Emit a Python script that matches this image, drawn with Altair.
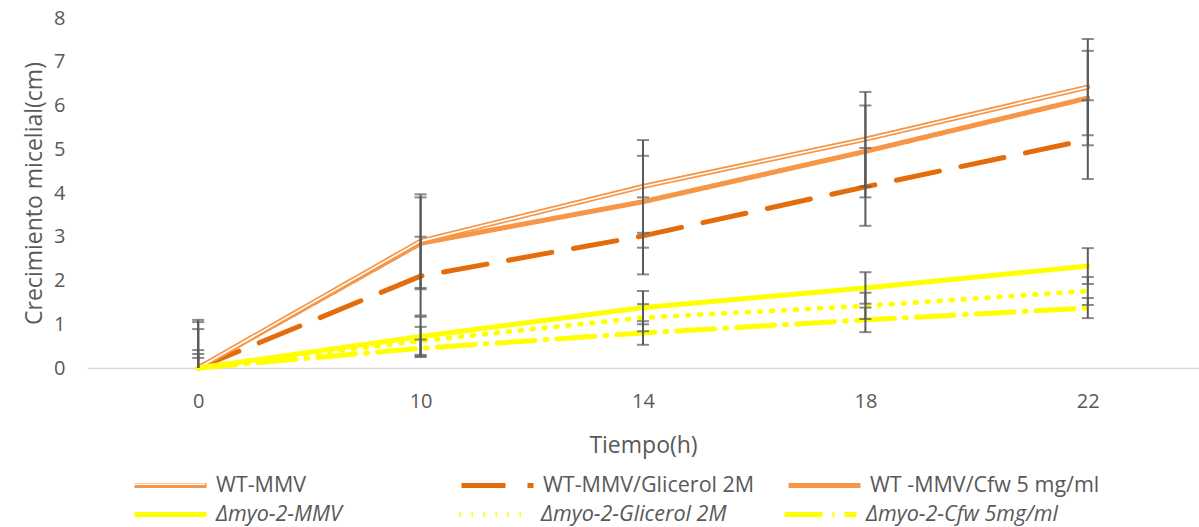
import altair as alt
import pandas as pd

times = ["0", "10", "14", "18", "22"]
wt_series = ["WT-MMV", "WT-MMV/Glicerol 2M", "WT -MMV/Cfw 5 mg/ml"]
myo_series = ["Δmyo-2-MMV", "Δmyo-2-Glicerol 2M", "Δmyo-2-Cfw 5mg/ml"]
means = {
    "WT-MMV":              [0, 2.90, 4.15, 5.23, 6.42],
    "WT-MMV/Glicerol 2M":  [0, 2.10, 3.02, 4.14, 5.22],
    "WT -MMV/Cfw 5 mg/ml": [0, 2.85, 3.80, 4.95, 6.17],
    "Δmyo-2-MMV":          [0, 0.72, 1.38, 1.83, 2.33],
    "Δmyo-2-Glicerol 2M":  [0, 0.62, 1.15, 1.42, 1.76],
    "Δmyo-2-Cfw 5mg/ml":   [0, 0.45, 0.80, 1.10, 1.37],
}
errors = {
    "WT-MMV":              [1.10, 1.07, 1.06, 1.08, 1.10],
    "WT-MMV/Glicerol 2M":  [0.89, 0.90, 0.88, 0.89, 0.90],
    "WT -MMV/Cfw 5 mg/ml": [1.05, 1.05, 1.05, 1.05, 1.08],
    "Δmyo-2-MMV":          [0.41, 0.45, 0.38, 0.36, 0.41],
    "Δmyo-2-Glicerol 2M":  [0.32, 0.32, 0.31, 0.30, 0.32],
    "Δmyo-2-Cfw 5mg/ml":   [0.23, 0.20, 0.27, 0.28, 0.23],
}
wt_colors = ["#F79646", "#E46C0A", "#F79646"]
myo_colors = ["#FFFF00", "#FFFF00", "#FFFF00"]
wt_dashes = [[1, 0], [44, 22], [1, 0]]
myo_dashes = [[1, 0], [1.5, 10.5], [38, 10, 2, 10]]

rows = []
for grp, names in (("wt", wt_series), ("myo", myo_series)):
    for s in names:
        for t, m, e in zip(times, means[s], errors[s]):
            rows.append({"Tiempo": t, "grupo": grp, "serie": s, "valor": m, "lo": m - e, "hi": m + e})
df = pd.DataFrame(rows)

FONT = "Open Sans"
GRAY = "#595959"
EB = "#5A5A5A"

x = alt.X("Tiempo:O", sort=times, scale=alt.Scale(type="point", padding=0.5),
          axis=alt.Axis(title="Tiempo(h)", labelAngle=0, ticks=False, domainColor="#D9D9D9",
                        domainWidth=1.5, labelPadding=23, titlePadding=23))
yscale = alt.Scale(domain=[0, 8])
y = alt.Y("valor:Q", scale=yscale,
          axis=alt.Axis(title="Crecimiento micelial(cm)", values=list(range(9)), grid=False,
                        domain=False, ticks=False, labelPadding=22, titlePadding=7))


def legend(ly, cpad, style, width=5, label_expr="datum.label"):
    return alt.Legend(title=None, orient="none", direction="horizontal", columns=3,
                      legendX=45, legendY=ly,
                      symbolType="stroke", symbolSize=5184, symbolStrokeWidth=width,
                      labelFontSize=21.5, labelFont=FONT, labelColor=GRAY, labelOffset=7,
                      labelExpr=label_expr,
                      labelFontStyle=style, columnPadding=cpad, gridAlign="all", labelLimit=400)


base = alt.Chart(df)
wt_lines = base.transform_filter(alt.datum.grupo == "wt").mark_line(
    strokeWidth=5, strokeCap="round", strokeJoin="round").encode(
    x=x, y=y,
    color=alt.Color("serie:N", sort=wt_series, scale=alt.Scale(domain=wt_series, range=wt_colors),
                    legend=legend(429, 5, "normal")),
    strokeDash=alt.StrokeDash("serie:N", sort=wt_series,
                              scale=alt.Scale(domain=wt_series, range=wt_dashes), legend=None),
)
inner = base.transform_filter(alt.datum.serie == "WT-MMV").mark_line(
    strokeWidth=1.6, strokeCap="round").encode(
    x=x, y=y,
    color=alt.Color("serie:N", scale=alt.Scale(domain=wt_series[:1], range=["#FFFFFF"]),
                    legend=legend(429, 5, "normal", width=1.6, label_expr="''")),
)
myo_lines = base.transform_filter(alt.datum.grupo == "myo").mark_line(
    strokeWidth=5, strokeCap="round", strokeJoin="round").encode(
    x=x, y=y,
    color=alt.Color("serie:N", sort=myo_series, scale=alt.Scale(domain=myo_series, range=myo_colors),
                    legend=legend(458, 41, "italic")),
    strokeDash=alt.StrokeDash("serie:N", sort=myo_series,
                              scale=alt.Scale(domain=myo_series, range=myo_dashes), legend=None),
)

rule = base.mark_rule(color=EB, strokeWidth=2, clip=True).encode(
    x=x, y=alt.Y("lo:Q", scale=yscale), y2="hi:Q")
cap_lo = base.mark_tick(color=EB, thickness=2, size=12, orient="horizontal", clip=True).encode(
    x=x, y=alt.Y("lo:Q", scale=yscale))
cap_hi = base.mark_tick(color=EB, thickness=2, size=12, orient="horizontal", clip=True).encode(
    x=x, y=alt.Y("hi:Q", scale=yscale))

chart = alt.layer(wt_lines, inner, myo_lines, rule, cap_lo, cap_hi).resolve_scale(
    color="independent", strokeDash="independent"
).properties(
    width=1112, height=350,
    autosize=alt.AutoSizeParams(type="none"),
    padding={"left": 87, "top": 18, "right": 0, "bottom": 159},
).configure_view(stroke=None).configure_axis(
    labelFont=FONT, titleFont=FONT, labelColor=GRAY, titleColor=GRAY,
    labelFontSize=20, titleFontSize=23, titleFontWeight="normal",
)

chart.save("out.html", embed_options={"renderer": "svg", "actions": False})
